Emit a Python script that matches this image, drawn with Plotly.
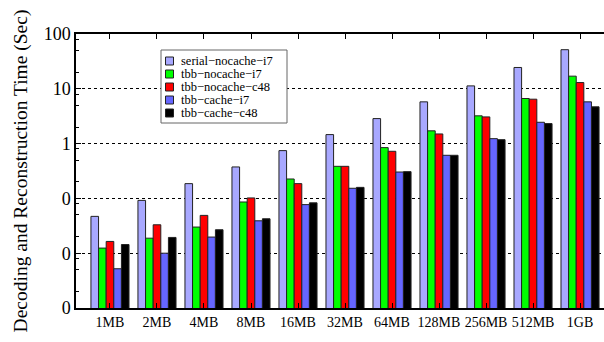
import plotly.graph_objects as go

# File sizes on the x axis
sizes = ["1MB", "2MB", "4MB", "8MB", "16MB", "32MB", "64MB", "128MB", "256MB", "512MB", "1GB"]

# Decoding + reconstruction time in seconds for each configuration
serial_nocache_i7 = [0.047, 0.092, 0.186, 0.375, 0.745, 1.46, 2.86, 5.78, 11.3, 24.5, 51.7]
tbb_nocache_i7 = [0.0124, 0.0188, 0.030, 0.086, 0.226, 0.385, 0.845, 1.71, 3.21, 6.65, 17.0]
tbb_nocache_c48 = [0.0164, 0.033, 0.049, 0.102, 0.186, 0.385, 0.724, 1.50, 3.07, 6.46, 13.0]
tbb_cache_i7 = [0.0052, 0.010, 0.0197, 0.039, 0.077, 0.153, 0.303, 0.612, 1.23, 2.45, 5.78]
tbb_cache_c48 = [0.0144, 0.0194, 0.0268, 0.0425, 0.083, 0.159, 0.308, 0.612, 1.18, 2.32, 4.69]

series_names = ["serial−nocache−i7", "tbb−nocache−i7", "tbb−nocache−c48", "tbb−cache−i7", "tbb−cache−c48"]
series_values = [serial_nocache_i7, tbb_nocache_i7, tbb_nocache_c48, tbb_cache_i7, tbb_cache_c48]
series_colors = ["#a8a8ff", "#00ff00", "#ff0000", "#6666ff", "#000000"]

# Log-axis ticks: printed with a zero-decimal format
y_tickvals = [0.001, 0.01, 0.1, 1, 10, 100]
y_ticktext = ["0", "0", "0", "1", "10", "100"]
y_minor = [m * 10 ** e for e in range(-3, 2) for m in (2, 5, 8)]

FONT = "Liberation Serif"
W, H = 604, 342
ML, MR, MT, MB = 76, 0, 34, 34
PW, PH = W - ML - MR, H - MT - MB


def px_x(x):
    return (x - ML) / PW


def px_y(y):
    return 1 - (y - MT) / PH


fig = go.Figure()
for name, vals, color in zip(series_names, series_values, series_colors):
    fig.add_trace(go.Bar(
        x=sizes, y=vals, name=name,
        marker=dict(color=color, line=dict(color="#222222", width=1)),
    ))

# Compact key box in the upper-left of the plot area
ROW0, ROWSTEP = 61, 13
shapes = [dict(type="rect", xref="paper", yref="paper",
               x0=px_x(161), x1=px_x(287), y0=px_y(50), y1=px_y(ROW0 + 4 * ROWSTEP + 10),
               line=dict(color="#666666", width=1), fillcolor="white", layer="above")]
annotations = []
for i, (name, color) in enumerate(zip(series_names, series_colors)):
    cy = ROW0 + i * ROWSTEP
    shapes.append(dict(type="rect", xref="paper", yref="paper",
                       x0=px_x(165.5), x1=px_x(173.5), y0=px_y(cy + 4), y1=px_y(cy - 4),
                       line=dict(color="#222222", width=1), fillcolor=color, layer="above"))
    annotations.append(dict(xref="paper", yref="paper", x=px_x(180), y=px_y(cy),
                            xanchor="left", yanchor="middle", showarrow=False,
                            borderpad=0,
                            text=name, font=dict(family=FONT, size=12.5, color="black")))

fig.update_layout(
    width=W, height=H,
    margin=dict(l=ML, r=MR, t=MT, b=MB),
    paper_bgcolor="white", plot_bgcolor="white",
    barmode="group", bargap=0.19, bargroupgap=0,
    font=dict(family=FONT, color="black", size=13),
    showlegend=False,
    shapes=shapes, annotations=annotations,
    xaxis=dict(
        range=[-0.723, 10.51],
        showline=True, linecolor="black", linewidth=1.5,
        mirror="ticks", ticks="inside", ticklen=5, tickcolor="black",
        showgrid=False, zeroline=False,
        tickfont=dict(family=FONT, size=14),
    ),
    yaxis=dict(
        type="log", range=[-3, 2],
        tickvals=y_tickvals, ticktext=y_ticktext,
        showline=True, linecolor="black", linewidth=1.5, mirror=False,
        ticks="inside", ticklen=5, tickcolor="black",
        showgrid=True, gridcolor="black", griddash="dot", gridwidth=1,
        zeroline=False,
        minor=dict(tickvals=y_minor, ticks="inside", ticklen=3, tickcolor="black", showgrid=False),
        tickfont=dict(family=FONT, size=18),
        title=dict(text="Decoding and Reconstruction Time (Sec)",
                   font=dict(family=FONT, size=19.5), standoff=11),
    ),
)

fig.write_html("out.html")
